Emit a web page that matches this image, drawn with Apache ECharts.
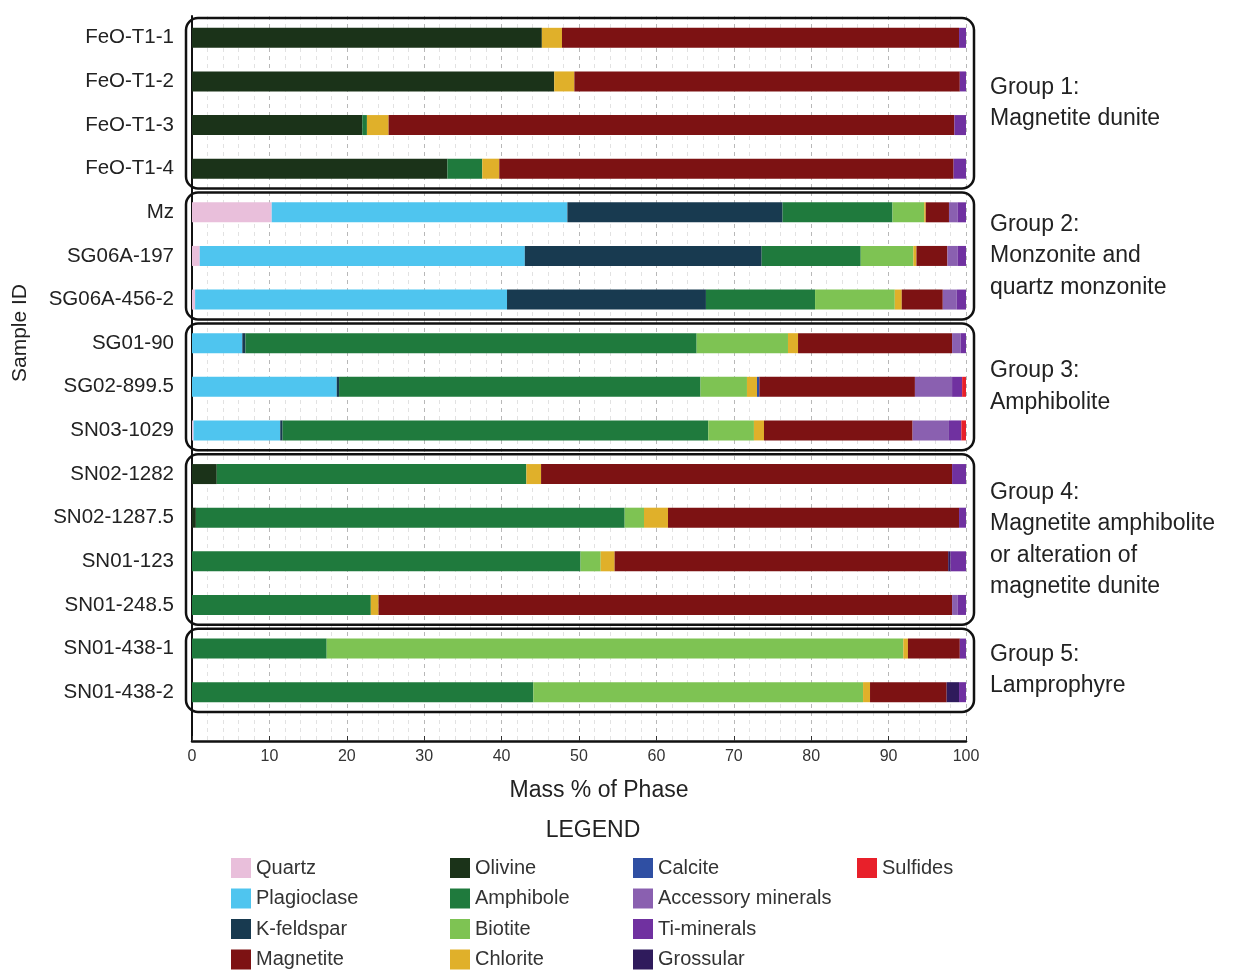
<!DOCTYPE html>
<html>
<head>
<meta charset="utf-8">
<script src="https://cdn.jsdelivr.net/npm/echarts@6/dist/echarts.min.js"></script>
<style>
  html, body { margin: 0; padding: 0; background: #fff; }
  #chart { width: 1258px; height: 973px; }
</style>
</head>
<body>
<div id="chart"></div>
<script>
// sample ids, top to bottom
const samples = ['FeO-T1-1', 'FeO-T1-2', 'FeO-T1-3', 'FeO-T1-4', 'Mz', 'SG06A-197', 'SG06A-456-2',
  'SG01-90', 'SG02-899.5', 'SN03-1029', 'SN02-1282', 'SN02-1287.5', 'SN01-123', 'SN01-248.5',
  'SN01-438-1', 'SN01-438-2']

// mass % of each phase, one value per sample
const quartz      = [0, 0, 0, 0, 10.3, 1.0, 0.4, 0, 0, 0.2, 0, 0, 0, 0, 0, 0]
const plagioclase = [0, 0, 0, 0, 38.2, 42.0, 40.3, 6.5, 18.7, 11.2, 0, 0, 0, 0, 0, 0]
const kfeldspar   = [0, 0, 0, 0, 27.8, 30.6, 25.7, 0.4, 0.3, 0.3, 0, 0, 0, 0, 0, 0]
const olivine     = [45.2, 46.8, 22.0, 33.0, 0, 0, 0, 0, 0, 0, 3.2, 0.5, 0, 0, 0, 0]
const amphibole   = [0, 0, 0.6, 4.5, 14.2, 12.8, 14.1, 58.3, 46.7, 55.0, 40.0, 55.4, 50.2, 23.1, 17.4, 44.1]
const biotite     = [0, 0, 0, 0, 4.1, 6.8, 10.3, 11.8, 6.0, 5.9, 0, 2.5, 2.6, 0, 74.5, 42.6]
const chlorite    = [2.6, 2.6, 2.8, 2.2, 0.2, 0.4, 0.9, 1.3, 1.3, 1.3, 1.9, 3.1, 1.8, 1.0, 0.6, 0.9]
const calcite     = [0, 0, 0, 0, 0, 0, 0, 0, 0.3, 0, 0, 0, 0, 0, 0, 0]
const magnetite   = [51.3, 49.8, 73.1, 58.7, 3.0, 4.0, 5.3, 19.9, 20.1, 19.2, 53.1, 37.6, 43.1, 74.1, 6.7, 9.9]
const accessory   = [0, 0, 0, 0, 1.1, 1.3, 1.8, 1.1, 4.8, 4.7, 0, 0, 0, 0.7, 0, 0]
const grossular   = [0, 0, 0, 0, 0, 0, 0, 0, 0, 0, 0, 0, 0.3, 0, 0, 1.6]
const tiMinerals  = [0.9, 0.8, 1.5, 1.6, 1.1, 1.1, 1.2, 0.7, 1.3, 1.6, 1.8, 0.9, 2.0, 1.1, 0.8, 0.9]
const sulfides    = [0, 0, 0, 0, 0, 0, 0, 0, 0.5, 0.6, 0, 0, 0, 0, 0, 0]

// x axis ticks
const xTicks = [0, 10, 20, 30, 40, 50, 60, 70, 80, 90, 100]

// groups: first and last sample index, label
const groupStart = [0, 4, 7, 10, 14]
const groupEnd = [3, 6, 9, 13, 15]
const groupLabels = [
  'Group 1:\nMagnetite dunite',
  'Group 2:\nMonzonite and\nquartz monzonite',
  'Group 3:\nAmphibolite',
  'Group 4:\nMagnetite amphibolite\nor alteration of\nmagnetite dunite',
  'Group 5:\nLamprophyre',
]

// legend columns
const legendCol1 = ['Quartz', 'Plagioclase', 'K-feldspar', 'Magnetite']
const legendCol2 = ['Olivine', 'Amphibole', 'Biotite', 'Chlorite']
const legendCol3 = ['Calcite', 'Accessory minerals', 'Ti-minerals', 'Grossular']
const legendCol4 = ['Sulfides']

const phases = [
  { name: 'Quartz', data: quartz, color: '#e9bfdb' },
  { name: 'Plagioclase', data: plagioclase, color: '#4fc5ef' },
  { name: 'K-feldspar', data: kfeldspar, color: '#183a50' },
  { name: 'Olivine', data: olivine, color: '#1b3319' },
  { name: 'Amphibole', data: amphibole, color: '#1f7a3d' },
  { name: 'Biotite', data: biotite, color: '#7ec353' },
  { name: 'Chlorite', data: chlorite, color: '#e0b02a' },
  { name: 'Calcite', data: calcite, color: '#2f4fa3' },
  { name: 'Magnetite', data: magnetite, color: '#7d1213' },
  { name: 'Accessory minerals', data: accessory, color: '#8a60b0' },
  { name: 'Grossular', data: grossular, color: '#2f1b5c' },
  { name: 'Ti-minerals', data: tiMinerals, color: '#7031a0' },
  { name: 'Sulfides', data: sulfides, color: '#e8202a' },
]

const FONT = 'Liberation Sans, Arial, sans-serif'
const chart = echarts.init(document.getElementById('chart'))

function legendCol(names, left) {
  return {
    orient: 'vertical',
    left: left,
    top: 858,
    height: 115,
    padding: 0,
    data: names,
    icon: 'rect',
    itemWidth: 20,
    itemHeight: 20,
    itemGap: 10.5,
    textStyle: { fontFamily: FONT, fontSize: 20, color: '#333' },
  }
}

const option = {
  animation: false,
  backgroundColor: '#fff',
  grid: [
    // bars
    { left: 192, width: 774, top: 16, height: 698 },
    // axis frame with grid lines
    { left: 192, width: 774, top: 16, bottom: 232 },
  ],
  legend: [
    legendCol(legendCol1, 231),
    legendCol(legendCol2, 450),
    legendCol(legendCol3, 633),
    legendCol(legendCol4, 857),
  ],
  xAxis: [
    { type: 'value', gridIndex: 0, min: 0, max: 100, show: false },
    {
      type: 'value',
      gridIndex: 1,
      min: xTicks[0],
      max: xTicks[xTicks.length - 1],
      interval: 10,
      name: 'Mass % of Phase',
      nameLocation: 'middle',
      nameGap: 38,
      nameTextStyle: { fontFamily: FONT, fontSize: 23, color: '#222', padding: [0, 0, 0, 40] },
      axisLine: { show: true, lineStyle: { color: '#111', width: 2.5 } },
      axisTick: { show: true, inside: true, length: 5, lineStyle: { color: '#333' } },
      axisLabel: { fontFamily: FONT, fontSize: 16, color: '#333', margin: 8 },
      splitLine: { show: true, lineStyle: { color: '#b8b8b8', type: [4, 4] } },
      minorTick: { show: false, splitNumber: 5 },
      minorSplitLine: { show: true, lineStyle: { color: '#e2e2e2', type: [4, 4] } },
    },
  ],
  yAxis: [
    {
      type: 'category',
      gridIndex: 0,
      data: samples,
      inverse: true,
      axisLine: { show: false },
      axisTick: { show: false },
      axisLabel: { fontFamily: FONT, fontSize: 20.5, color: '#222', margin: 18 },
    },
    {
      type: 'value',
      gridIndex: 1,
      min: 0,
      max: 1,
      axisLine: { show: true, onZero: false, lineStyle: { color: '#111', width: 2 } },
      axisTick: { show: false },
      axisLabel: { show: false },
      splitLine: { show: false },
    },
  ],
  series: phases.map(p => ({
    name: p.name,
    type: 'bar',
    stack: 'total',
    xAxisIndex: 0,
    yAxisIndex: 0,
    barWidth: 20,
    data: p.data,
    itemStyle: { color: p.color },
    z: 3,
  })),
}

chart.setOption(option)

// group boxes and texts placed from the axis scales
function drawGroups() {
  const band = chart.convertToPixel({ yAxisIndex: 0 }, samples[1]) - chart.convertToPixel({ yAxisIndex: 0 }, samples[0])
  const x0 = chart.convertToPixel({ xAxisIndex: 0 }, 0) - 6
  const x1 = chart.convertToPixel({ xAxisIndex: 0 }, 100) + 8
  const elements = []
  groupStart.forEach((s, i) => {
    const yTop = chart.convertToPixel({ yAxisIndex: 0 }, samples[s]) - band / 2 + 2
    const yBot = chart.convertToPixel({ yAxisIndex: 0 }, samples[groupEnd[i]]) + band / 2 - 2
    elements.push({
      type: 'rect',
      shape: { x: x0, y: yTop, width: x1 - x0, height: yBot - yTop, r: 12 },
      style: { fill: 'none', stroke: '#111', lineWidth: 2.5 },
      z: 10,
    })
    elements.push({
      type: 'text',
      x: 990,
      y: (yTop + yBot) / 2,
      style: {
        text: groupLabels[i],
        fontFamily: FONT,
        fontSize: 23,
        lineHeight: 31.5,
        fill: '#222',
        textAlign: 'left',
        textVerticalAlign: 'middle',
      },
      z: 10,
    })
  })
  // axis title on the left
  elements.push({
    type: 'text',
    x: 20,
    y: 333,
    rotation: Math.PI / 2,
    style: {
      text: 'Sample ID',
      fontFamily: FONT,
      fontSize: 21,
      fill: '#222',
      textAlign: 'center',
      textVerticalAlign: 'middle',
    },
  })
  // legend heading
  elements.push({
    type: 'text',
    x: 593,
    y: 831,
    style: {
      text: 'LEGEND',
      fontFamily: FONT,
      fontSize: 23,
      fill: '#222',
      textAlign: 'center',
      textVerticalAlign: 'middle',
    },
  })
  chart.setOption({ graphic: elements })
}
drawGroups()
</script>
</body>
</html>
